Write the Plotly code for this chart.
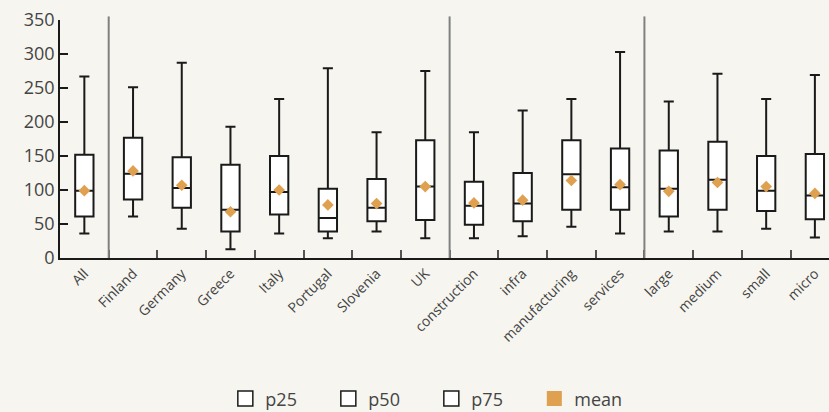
import plotly.graph_objects as go

categories = ["All", "Finland", "Germany", "Greece", "Italy", "Portugal", "Slovenia", "UK",
              "construction", "infra", "manufacturing", "services",
              "large", "medium", "small", "micro"]
whisker_low = [36, 61, 43, 13, 36, 29, 39, 29, 29, 32, 46, 36, 39, 39, 43, 30]
p25 = [61, 86, 74, 39, 64, 39, 54, 56, 49, 54, 71, 71, 61, 71, 69, 57]
p50 = [99, 124, 103, 71, 97, 59, 74, 105, 77, 80, 123, 104, 102, 115, 99, 92]
p75 = [152, 177, 148, 137, 150, 102, 116, 173, 112, 125, 173, 161, 158, 171, 150, 153]
whisker_high = [267, 251, 287, 193, 234, 279, 185, 275, 185, 217, 234, 303, 230, 271, 234, 269]
mean = [99, 128, 107, 68, 100, 78, 80, 105, 81, 85, 114, 108, 98, 111, 105, 95]

legend_names = ["p25", "p50", "p75", "mean"]
group_separators = [0.5, 7.5, 11.5]

BG = "#f6f5ef"
ORANGE = "#dfa04f"
TXT = "#444444"
FONT = "Open Sans"

fig = go.Figure()

fig.add_trace(go.Box(
    x=categories,
    q1=p25, median=p50, q3=p75,
    lowerfence=whisker_low, upperfence=whisker_high,
    fillcolor="white",
    line=dict(color="#1a1a1a", width=2),
    width=0.376,
    whiskerwidth=0.55,
    showlegend=False,
    hoverinfo="skip",
))

fig.add_trace(go.Scatter(
    x=categories, y=mean, mode="markers",
    marker=dict(symbol="diamond", size=9, color=ORANGE),
    showlegend=False, hoverinfo="skip",
))

for i, nm in enumerate(legend_names):
    if nm == "mean":
        mk = dict(symbol="square", size=15, color=ORANGE, line=dict(width=0))
    else:
        mk = dict(symbol="square", size=15, color="white", line=dict(color="#1a1a1a", width=1.5))
    fig.add_trace(go.Scatter(x=[None], y=[None], mode="markers", name=nm, marker=mk))

for s in group_separators:
    fig.add_shape(type="line", xref="x", yref="paper", x0=s, x1=s, y0=0, y1=1.015,
                  line=dict(color="#808080", width=2), layer="above")

fig.update_layout(
    width=829, height=412,
    margin=dict(l=60, r=0, t=20, b=154, pad=0, autoexpand=False),
    paper_bgcolor=BG, plot_bgcolor=BG,
    font=dict(family=FONT, color=TXT, size=18),
    legend=dict(orientation="h", x=0.215, xanchor="left", y=-0.592, yanchor="middle",
                font=dict(size=18, color=TXT), entrywidth=58, bgcolor="rgba(0,0,0,0)"),
    xaxis=dict(
        type="category", range=[-0.5, 15.29],
        showline=True, linecolor="#1a1a1a", linewidth=2,
        ticks="inside", tickson="boundaries", ticklen=8, tickcolor="#555555", tickwidth=1.5,
        tickangle=-45, tickfont=dict(size=14, color=TXT, family=FONT),
        showgrid=False, zeroline=False, automargin=False,
    ),
    yaxis=dict(
        range=[0, 350], tickvals=[0, 50, 100, 150, 200, 250, 300, 350],
        showline=True, linecolor="#1a1a1a", linewidth=1.5,
        ticks="inside", ticklen=8, tickcolor="#1a1a1a", tickwidth=1.5,
        tickfont=dict(size=18, color=TXT, family=FONT),
        showgrid=False, zeroline=False, automargin=False,
    ),
)

fig.write_html(
    "out.html",
    config={"displayModeBar": False},
    post_script="document.body.style.margin='0';document.body.style.overflow='hidden';",
)
